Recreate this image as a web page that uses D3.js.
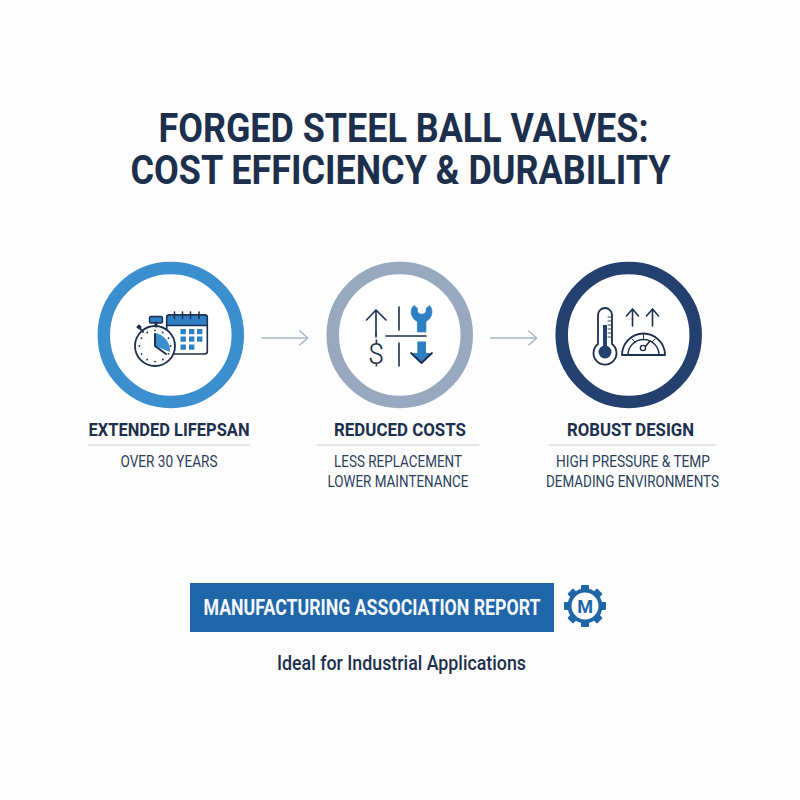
<!DOCTYPE html>
<html>
<head>
<meta charset="utf-8">
<script src="https://cdn.jsdelivr.net/npm/d3@7"></script>
<style>
  html, body { margin: 0; padding: 0; background: #fdfdfd; }
  svg { display: block; }
  text { font-family: Roboto, "Liberation Sans", sans-serif; }
</style>
</head>
<body>
<div class="chart"></div>
<script>
var titleLines = ['FORGED STEEL BALL VALVES:', 'COST EFFICIENCY & DURABILITY'];
var headings = ['EXTENDED LIFEPSAN', 'REDUCED COSTS', 'ROBUST DESIGN'];
var details = [['OVER 30 YEARS'], ['LESS REPLACEMENT', 'LOWER MAINTENANCE'], ['HIGH PRESSURE & TEMP', 'DEMADING ENVIRONMENTS']];
var ringColors = ['#3b8fcf', '#98a9bf', '#23406f'];
var bannerLabel = 'MANUFACTURING ASSOCIATION REPORT';
var footerLabel = 'Ideal for Industrial Applications';

var navy = '#1c2f4c', blue = '#2f7fc4';

var svg = d3.select('.chart').append('svg')
  .attr('width', 800)
  .attr('height', 800);

svg.append('rect').attr('width', 800).attr('height', 800).attr('fill', '#fdfdfd');

// stretches a text to the width it has in the picture
function label(parent, str, cx, y, width, size, weight, color) {
  return parent.append('text')
    .attr('x', cx)
    .attr('y', y)
    .attr('text-anchor', 'middle')
    .attr('font-size', size)
    .attr('font-weight', weight)
    .attr('fill', color)
    .attr('textLength', width)
    .attr('lengthAdjust', 'spacingAndGlyphs')
    .text(str);
}

function line(parent, x1, y1, x2, y2, color, w) {
  return parent.append('line')
    .attr('x1', x1).attr('y1', y1).attr('x2', x2).attr('y2', y2)
    .attr('stroke', color)
    .attr('stroke-width', w)
    .attr('stroke-linecap', 'round');
}

function path(parent, d, fill, stroke, w) {
  return parent.append('path')
    .attr('d', d)
    .attr('fill', fill)
    .attr('stroke', stroke || 'none')
    .attr('stroke-width', w || 0)
    .attr('stroke-linejoin', 'round')
    .attr('stroke-linecap', 'round');
}

// title
label(svg, titleLines[0], 403.5, 142, 490, 41, 700, navy);
label(svg, titleLines[1], 400.5, 183.5, 540, 41, 700, navy);

// rings and arrows
var x = d3.scalePoint().domain(headings).range([170.8, 628.7]);

svg.selectAll('.ring')
  .data(headings)
  .enter().append('circle')
  .attr('class', 'ring')
  .attr('cx', function(d) { return x(d); })
  .attr('cy', 335)
  .attr('r', 67)
  .attr('fill', '#fff')
  .attr('stroke', function(d, i) { return ringColors[i]; })
  .attr('stroke-width', 12.5);

headings.slice(0, 2).forEach(function(d) {
  var g = svg.append('g').attr('transform', 'translate(' + (x(d) + 91) + ',338)');
  path(g, 'M0,0H46M38,-7L46,0L38,7', 'none', '#a9b8c9', 1.6);
});

// heading, rule and detail lines under each ring
var headingWidths = [161, 132, 127];
var headingCx = [169, 400, 630.5];
var ruleX = [[88, 250], [317, 479], [549, 716]];
var detailWidths = [[97], [128, 141], [154, 173]];
var detailCx = [[169], [398, 398], [633, 632.5]];

headings.forEach(function(d, i) {
  label(svg, d, headingCx[i], 436, headingWidths[i], 19, 700, navy);
  line(svg, ruleX[i][0], 445, ruleX[i][1], 445, '#c6d0da', 1);
  details[i].forEach(function(t, j) {
    label(svg, t, detailCx[i][j], 467 + j * 19.5, detailWidths[i][j], 16.5, 400, '#2b3f5c');
  });
});

// icon 1: stopwatch and calendar
var icon1 = svg.append('g');
icon1.append('rect').attr('x', 166.7).attr('y', 315).attr('width', 40.6).attr('height', 39).attr('rx', 2.5)
  .attr('fill', '#fff').attr('stroke', navy).attr('stroke-width', 1.6);
path(icon1, 'M166.7,325.5V317.5Q166.7,315 169.2,315H204.8Q207.3,315 207.3,317.5V325.5Z', blue, navy, 1.4);
[174.5, 182.5, 190.5, 199].forEach(function(cx) { line(icon1, cx, 312, cx, 318.5, navy, 1.5); });
[180.5, 189, 197].forEach(function(sx, c) {
  [329, 336.5, 344.5].forEach(function(sy, r) {
    if (r === 2 && c === 2) return;
    icon1.append('rect').attr('x', sx).attr('y', sy).attr('width', 5.4).attr('height', 5.2).attr('fill', blue);
  });
});
icon1.append('circle').attr('cx', 155).attr('cy', 346).attr('r', 20)
  .attr('fill', '#fff').attr('stroke', navy).attr('stroke-width', 1.8);
icon1.append('rect').attr('x', 149.5).attr('y', 316.5).attr('width', 13).attr('height', 6.5).attr('rx', 1.5)
  .attr('fill', blue).attr('stroke', navy).attr('stroke-width', 1.4);
line(icon1, 156, 323, 156, 326, navy, 3);
line(icon1, 139, 327, 143, 332, navy, 2);
icon1.append('rect').attr('x', 137).attr('y', 325).attr('width', 4).attr('height', 4).attr('fill', navy).attr('transform', 'rotate(40 139 327)');
path(icon1, 'M155,346V333A18,18 0 0 1 170,352Z', '#3b8fcf');
d3.range(12).forEach(function(k) {
  var a = k * Math.PI / 6;
  icon1.append('circle').attr('cx', 155 + 15.6 * Math.sin(a)).attr('cy', 346 - 15.6 * Math.cos(a)).attr('r', 0.9).attr('fill', navy);
});
path(icon1, 'M155,334V346L166,354', 'none', navy, 2);

// icon 2: cost arrow, dollar, wrench
var icon2 = svg.append('g');
path(icon2, 'M376,335V310M366.500,320L376,310L386,320', 'none', navy, 1.6);
line(icon2, 376, 334, 376, 337, navy, 1.5);
icon2.append('text').attr('x', 376).attr('y', 364).attr('text-anchor', 'middle')
  .attr('font-size', 29).attr('font-weight', 300).attr('fill', navy).text('$');
line(icon2, 399, 307, 399, 330, navy, 1.6);
line(icon2, 399, 343, 399, 366, navy, 1.6);
line(icon2, 386, 336, 426, 336, navy, 1.6);
path(icon2, 'M414,305.500C409.500,309 410,318 417.300,321.500V332H426V321.500C433,318 433.500,309 429.500,305.500L426,308.500V312Q421.700,316.500 417.500,312V308.500Z', blue, blue, 0.6);
path(icon2, 'M417.300,341.500H426V353H432L421.500,363L411,353H417.300Z', blue);
path(icon2, 'M411,353L421.500,363L432,353', 'none', navy, 1.8);

// icon 3: thermometer and gauge
var icon3 = svg.append('g');
path(icon3, 'M598,344V315A7,7 0 0 1 612,315V344A11.500,11.500 0 1 1 598,344Z', '#fff', navy, 1.8);
icon3.append('circle').attr('cx', 605).attr('cy', 352).attr('r', 6.5).attr('fill', '#23406f');
icon3.append('rect').attr('x', 603).attr('y', 325).attr('width', 4).attr('height', 24).attr('fill', '#23406f');
d3.range(6).forEach(function(k) { line(icon3, 608, 317 + k * 4, 612, 317 + k * 4, navy, 0.9); });
[632.5, 652.5].forEach(function(ax) {
  path(icon3, 'M' + ax + ',326V309M' + (ax - 6) + ',316L' + ax + ',309L' + (ax + 6) + ',316', 'none', navy, 1.6);
});
path(icon3, 'M622,355A21.500,21.500 0 0 1 665,355Z', '#fff', navy, 1.8);
path(icon3, 'M628,355A15.500,15.500 0 0 1 659,355', 'none', navy, 1.4);
line(icon3, 643.5, 334, 643.5, 339, navy, 1);
line(icon3, 632, 339, 635, 342, navy, 1);
line(icon3, 655, 339, 652, 342, navy, 1);
line(icon3, 645, 347, 650, 341, navy, 1.6);
icon3.append('circle').attr('cx', 643).attr('cy', 348).attr('r', 2.600).attr('fill', '#fff').attr('stroke', navy).attr('stroke-width', 1.4);

// banner
svg.append('rect').attr('x', 190).attr('y', 583).attr('width', 364).attr('height', 49).attr('fill', '#1f66a8');
label(svg, bannerLabel, 372, 615, 337, 22, 700, '#f4f7fb');

// gear logo
var gear = svg.append('g').attr('transform', 'translate(585,606)');
d3.range(8).forEach(function(k) {
  gear.append('rect').attr('x', -4).attr('y', -21).attr('width', 8).attr('height', 8).attr('rx', 1)
    .attr('fill', '#1f66a8').attr('transform', 'rotate(' + (k * 45) + ')');
});
gear.append('circle').attr('r', 15.5).attr('fill', '#fff').attr('stroke', '#1f66a8').attr('stroke-width', 4);
gear.append('text').attr('y', 6.5).attr('text-anchor', 'middle').attr('font-size', 18).attr('font-weight', 700).attr('fill', '#1f66a8').text('M');

// footer
label(svg, footerLabel, 401.5, 670, 249, 20, 500, navy);
</script>
</body>
</html>
